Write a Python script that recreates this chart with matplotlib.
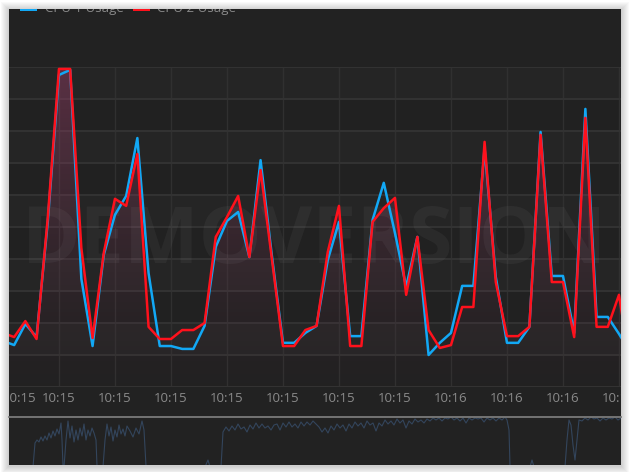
import numpy as np
import matplotlib
matplotlib.use("Agg")
import matplotlib.pyplot as plt
from matplotlib.patches import Rectangle, Polygon

W, H = 630, 472

# CPU usage (%) per sample
cpu1 = [14.4, 13.1, 19.7, 15.6, 51.6, 97.5, 99.1, 33.8, 12.8, 41.3,
        53.8, 59.7, 77.8, 35.6, 12.8, 12.8, 11.9, 11.9, 19.1, 43.8,
        51.9, 54.7, 40.6, 70.9, 41.3, 13.8, 13.8, 16.9, 19.1, 39.7,
        51.6, 15.9, 15.9, 52.2, 63.8, 48.1, 31.3, 46.9, 10.0, 13.8,
        16.9, 31.6, 31.6, 74.7, 34.4, 13.8, 13.8, 18.8, 79.7, 34.7,
        34.7, 16.9, 86.9, 21.9, 21.9, 16.6, 10.9]
cpu2 = [16.9, 15.6, 20.6, 15.0, 52.8, 99.4, 99.4, 43.4, 15.3, 41.9,
        58.8, 56.6, 72.8, 18.8, 15.0, 15.0, 17.8, 17.8, 20.0, 46.9,
        53.1, 59.7, 40.6, 67.8, 40.3, 12.8, 12.8, 17.8, 19.1, 42.2,
        56.6, 12.8, 12.8, 51.6, 55.9, 59.1, 28.8, 46.9, 17.8, 12.2,
        13.1, 25.0, 25.0, 76.6, 32.8, 15.9, 15.9, 18.8, 78.8, 32.8,
        32.8, 15.6, 84.1, 18.8, 18.8, 28.8, 6.6]

tick_idx = [0, 5, 10, 15, 20, 25, 30, 35, 40, 45, 50, 55]
tick_txt = ["10:15"] * 8 + ["10:16"] * 4

# navigator: whole session (sample, load)
nav_sample = [0, 22, 24, 26, 28, 30, 32, 34, 36, 38, 40, 42, 44, 46, 48, 50, 52, 53, 54, 55,
              57, 59, 61, 63, 65, 67, 69, 71, 73, 75, 77, 79, 81, 83, 85, 87, 88, 90,
              94, 96, 98, 100, 102, 104, 106, 108, 110, 112, 114, 116, 118, 121, 124, 127,
              130, 133, 135, 137, 139, 196, 199, 201, 212, 214, 217, 220, 223, 226, 229,
              232, 235, 238, 241, 244, 247, 250, 253, 256, 259, 262, 265, 268, 271, 274,
              277, 280, 283, 286, 289, 292, 295, 298, 301, 304, 307, 310, 313, 316, 319,
              322, 325, 328, 331, 334, 337, 340, 343, 346, 349, 352, 355, 358, 361, 364,
              367, 370, 373, 376, 379, 382, 385, 388, 391, 394, 397, 400, 403, 406, 409,
              412, 415, 418, 421, 424, 427, 430, 433, 436, 439, 442, 445, 448, 451, 454,
              457, 460, 463, 466, 469, 472, 475, 478, 481, 484, 487, 490, 493, 496, 498,
              500, 501, 502, 521, 523, 525, 556, 558, 560, 562, 564, 566, 568, 570, 573,
              576, 579, 582, 585, 588, 591, 594, 597, 600, 603, 606, 609, 612]
nav_load = [0, 0, 0, 48, 54, 50, 60, 52, 62, 54, 68, 58, 72, 62, 76, 66, 88, 54, 2, 0,
            54, 92, 58, 82, 50, 74, 54, 78, 62, 86, 54, 74, 62, 78, 68, 54, 2, 0,
            0, 54, 86, 62, 80, 52, 74, 60, 84, 66, 76, 62, 82, 72, 60, 78,
            66, 92, 74, 2, 0, 0, 14, 0, 0, 70, 80, 72, 82, 74, 86,
            76, 80, 70, 84, 76, 88, 78, 86, 78, 82, 74, 84, 86, 74, 88,
            80, 90, 80, 86, 78, 90, 82, 90, 84, 92, 86, 80, 70, 78, 68,
            82, 74, 86, 78, 84, 72, 86, 78, 90, 82, 88, 78, 92, 84, 88,
            72, 88, 82, 94, 86, 92, 84, 96, 88, 94, 78, 92, 86, 96, 90,
            94, 88, 96, 92, 98, 94, 98, 92, 98, 96, 100, 94, 98, 92, 98,
            88, 98, 94, 98, 96, 98, 90, 98, 94, 98, 92, 98, 94, 100, 94,
            74, 2, 0, 0, 14, 0, 0, 54, 94, 84, 44, 14, 54, 94, 92,
            98, 94, 100, 96, 98, 92, 98, 94, 98, 96, 100, 94, 98]


def box(l, t, r, b):
    return [l / W, 1 - b / H, (r - l) / W, (b - t) / H]


fig = plt.figure(figsize=(W / 100, H / 100), dpi=100)
fig.patch.set_facecolor("white")

# soft shadow around the panel
bg = fig.add_axes([0, 0, 1, 1])
bg.set_xlim(0, W)
bg.set_ylim(H, 0)
bg.axis("off")
for k in range(1, 9):
    bg.add_patch(Rectangle((9 - k, 9 - k + 1), 612 + 2 * k, 456 + 2 * k,
                           facecolor="black", edgecolor="none", alpha=0.022))
bg.add_patch(Rectangle((9, 9), 612, 456, facecolor="#222222", edgecolor="none"))

# header with legend (cut at the top)
axh = fig.add_axes(box(9, 9, 621, 67))
axh.set_facecolor("#2a2a2a")
axh.set_xlim(0, 612)
axh.set_ylim(58, 0)
axh.axis("off")
axh.patch.set_visible(True)
axh.add_patch(Rectangle((11, -3), 17, 5, facecolor="#12a8f5", edgecolor="none", clip_on=True))
axh.text(36, 2.7, "CPU 1 Usage", color="#8a8a8a", fontsize=9.5, family="Open Sans",
         va="baseline", clip_on=True)
axh.add_patch(Rectangle((124, -3), 17, 5, facecolor="#ff111c", edgecolor="none", clip_on=True))
axh.text(148, 2.7, "CPU 2 Usage", color="#8a8a8a", fontsize=9.5, family="Open Sans",
         va="baseline", clip_on=True)

# main plot
ax = fig.add_axes(box(9, 67, 621, 387))
ax.set_facecolor("#222222")
xs = np.arange(len(cpu1))
for k in range(10):
    ax.axhspan(k * 10, k * 10 + 10, color="#252525" if k % 2 else "#212121",
               zorder=0.2, lw=0)

poly = Polygon(np.column_stack([np.r_[xs[0], xs, xs[-1]], np.r_[0, cpu2, 0]]),
               closed=True, facecolor="none", edgecolor="none")
ax.add_patch(poly)
grad = np.linspace(0, 1, 256)[:, None]
rgba = np.zeros((256, 1, 4))
rgba[..., 0], rgba[..., 1], rgba[..., 2] = 0.62, 0.25, 0.42
rgba[..., 3] = 0.015 + 0.43 * grad ** 1.4
im = ax.imshow(rgba, extent=[xs[0], xs[-1], 0, 100], origin="lower",
               aspect="auto", zorder=1.2, interpolation="bilinear")
im.set_clip_path(poly)

ax.text(0.499, 0.3875, "DEMOVERSION", transform=ax.transAxes, ha="center",
        va="baseline", fontsize=57, fontweight="bold", family="Open Sans",
        color="white", alpha=0.045, zorder=1.5)

ax.plot(xs, cpu1, color="#12a8f5", lw=1.8, zorder=3)
ax.plot(xs, cpu2, color="#ff111c", lw=1.8, zorder=4)

ax.set_xlim(0.54, 55.18)
ax.set_ylim(0, 100)
ax.set_yticks(range(0, 101, 10))
ax.set_xticks(tick_idx[1:])
ax.set_axisbelow(True)
ax.grid(axis="y", color="#333333", lw=1.4, zorder=0.5)
ax.grid(axis="x", color="#303030", lw=1.0, zorder=0.5)
ax.tick_params(length=0, labelbottom=False, labelleft=False)
for s in ax.spines.values():
    s.set_visible(False)

# time labels strip
axl = fig.add_axes(box(9, 387, 621, 417))
axl.set_facecolor("#252525")
axl.set_xlim(0.54, 55.18)
axl.set_ylim(0, 1)
axl.axis("off")
axl.patch.set_visible(True)
for i, (p, t) in enumerate(zip(tick_idx, tick_txt)):
    axl.text(p, 0.62, t, ha="left" if i == 0 else "center", va="center",
             color="#8a8a8a", fontsize=9.5, family="Open Sans", clip_on=True)

# navigator
axn = fig.add_axes(box(9, 417, 621, 465))
axn.set_facecolor("#222222")
axn.plot(nav_sample, nav_load, color="#33455c", lw=0.8)
axn.set_xlim(0, 612)
axn.set_ylim(4, 100)
axn.set_xticks([])
axn.set_yticks([])
for s in axn.spines.values():
    s.set_visible(False)
axn.spines["top"].set_visible(True)
axn.spines["top"].set_color("#7a7a7a")
axn.spines["top"].set_linewidth(1.3)

fig.savefig("out.png", dpi=100, facecolor=fig.get_facecolor())
